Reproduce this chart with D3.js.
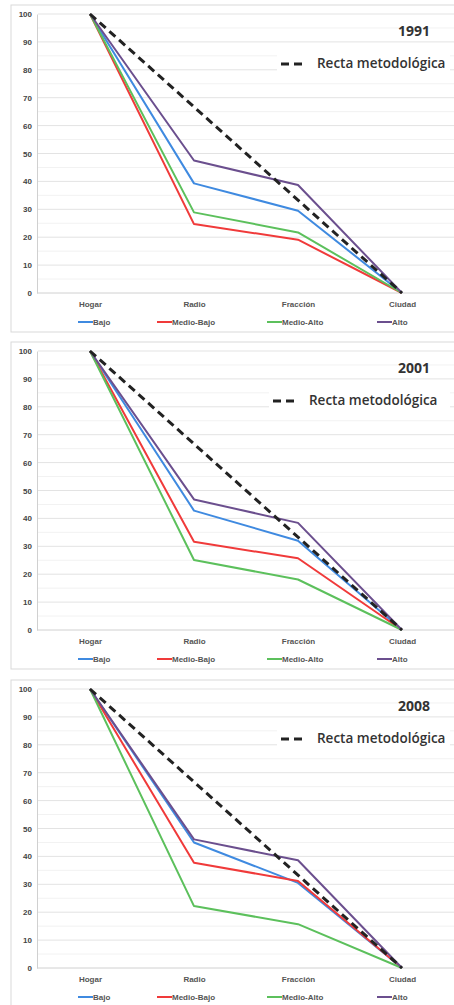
<!DOCTYPE html>
<html>
<head>
  <meta charset="utf-8">
  <script src="https://d3js.org/d3.v7.min.js"></script>
  <style>
    body { margin: 0; background: #fff; }
    text { font-family: "Liberation Sans", Arial, sans-serif; }
  </style>
</head>
<body>
  <svg id="chart" width="454" height="1005"></svg>
  <script>
    // Datos
    const categories = ["Hogar", "Radio", "Fracción", "Ciudad"];
    const seriesNames = ["Bajo", "Medio-Bajo", "Medio-Alto", "Alto"];
    const seriesColors = ["#3f8ae0", "#f03a3a", "#5cc05c", "#6b4f8e"];
    const years = ["1991", "2001", "2008"];
    const recta = [100, 66.7, 33.3, 0];
    const yTicks = [0, 10, 20, 30, 40, 50, 60, 70, 80, 90, 100];

    const bajo = {
      "1991": [100, 39.3, 29.5, 0],
      "2001": [100, 42.8, 32.0, 0],
      "2008": [100, 45.0, 30.5, 0]
    };
    const medioBajo = {
      "1991": [100, 24.7, 19.1, 0],
      "2001": [100, 31.6, 25.7, 0],
      "2008": [100, 37.7, 31.2, 0]
    };
    const medioAlto = {
      "1991": [100, 28.9, 21.7, 0],
      "2001": [100, 25.1, 18.1, 0],
      "2008": [100, 22.2, 15.7, 0]
    };
    const alto = {
      "1991": [100, 47.5, 38.7, 0],
      "2001": [100, 46.8, 38.4, 0],
      "2008": [100, 46.1, 38.6, 0]
    };
    const allSeries = [bajo, medioBajo, medioAlto, alto];

    const svg = d3.select("#chart");
    const panelTops = [0, 337, 675];
    const plotTop = 14, plotBottom = 293;

    const x = d3.scalePoint().domain(categories).range([38, 454]).padding(0.5);
    const y = d3.scaleLinear().domain([0, 100]).range([plotBottom, plotTop]);

    years.forEach((year, i) => {
      const g = svg.append("g").attr("transform", `translate(0,${panelTops[i]})`);

      // Marco
      g.append("rect")
        .attr("x", 11).attr("y", 5)
        .attr("width", 460).attr("height", 327)
        .attr("fill", "#fff")
        .attr("stroke", "#d9d9d9");

      // Líneas de cuadrícula
      g.append("g").selectAll("line")
        .data(d3.range(5, 100, 10))
        .join("line")
        .attr("x1", 38).attr("x2", 454)
        .attr("y1", d => y(d)).attr("y2", d => y(d))
        .attr("stroke", "#f2f2f2");
      g.append("g").selectAll("line")
        .data(yTicks.slice(1))
        .join("line")
        .attr("x1", 38).attr("x2", 454)
        .attr("y1", d => y(d)).attr("y2", d => y(d))
        .attr("stroke", "#e3e3e3");

      // Eje y
      const yAxis = g.append("g")
        .attr("transform", "translate(37,0)")
        .call(d3.axisLeft(y).tickValues(yTicks).tickSize(0).tickPadding(5));
      yAxis.select(".domain").attr("stroke", "#d0d0d0");
      yAxis.selectAll("text")
        .attr("fill", "#444")
        .style("font-size", "8px")
        .style("font-weight", "bold")
        .style("font-family", "Liberation Sans, Arial, sans-serif");

      // Eje x
      const xAxis = g.append("g")
        .attr("transform", `translate(0,${plotBottom})`)
        .call(d3.axisBottom(x).tickSize(0).tickPadding(8));
      xAxis.select(".domain").attr("stroke", "#d0d0d0").attr("d", "M37,0H454");
      xAxis.selectAll("text")
        .attr("fill", "#555")
        .style("font-size", "8px")
        .style("font-weight", "bold")
        .style("font-family", "Liberation Sans, Arial, sans-serif");

      const line = d3.line()
        .x((d, j) => x(categories[j]))
        .y(d => y(d));

      // Series
      allSeries.forEach((s, k) => {
        g.append("path")
          .datum(s[year])
          .attr("d", line)
          .attr("fill", "none")
          .attr("stroke", seriesColors[k])
          .attr("stroke-width", 2)
          .attr("stroke-linejoin", "round");
      });

      // Recta metodológica (encima)
      g.append("path")
        .datum(recta)
        .attr("d", line)
        .attr("fill", "none")
        .attr("stroke", "#222")
        .attr("stroke-width", 3)
        .attr("stroke-dasharray", "8,5");

      // Título del año
      g.append("text")
        .attr("x", 430).attr("y", 36)
        .attr("text-anchor", "end")
        .attr("fill", "#333")
        .style("font-family", "Open Sans, sans-serif")
        .style("font-size", "14px")
        .style("font-weight", "bold")
        .text(year);

      // Leyenda de la recta
      const lx = i === 1 ? 273 : 281;
      g.append("rect")
        .attr("x", lx - 4).attr("y", 52)
        .attr("width", 454 - lx).attr("height", 22)
        .attr("fill", "#fff");
      g.append("line")
        .attr("x1", lx).attr("x2", lx + 24)
        .attr("y1", 64).attr("y2", 64)
        .attr("stroke", "#222")
        .attr("stroke-width", 3)
        .attr("stroke-dasharray", "8,5");
      g.append("text")
        .attr("x", lx + 36).attr("y", 68)
        .attr("fill", "#333")
        .style("font-family", "Open Sans, sans-serif")
        .style("font-size", "13.5px")
        .style("font-weight", "600")
        .text("Recta metodológica");

      // Leyenda de series
      const legendX = [78, 157, 267, 377];
      seriesNames.forEach((name, k) => {
        g.append("line")
          .attr("x1", legendX[k]).attr("x2", legendX[k] + 15)
          .attr("y1", 322).attr("y2", 322)
          .attr("stroke", seriesColors[k])
          .attr("stroke-width", 2);
        g.append("text")
          .attr("x", legendX[k] + 15).attr("y", 325)
          .attr("fill", "#555")
          .style("font-size", "8px")
          .style("font-weight", "bold")
          .text(name);
      });
    });
  </script>
</body>
</html>
